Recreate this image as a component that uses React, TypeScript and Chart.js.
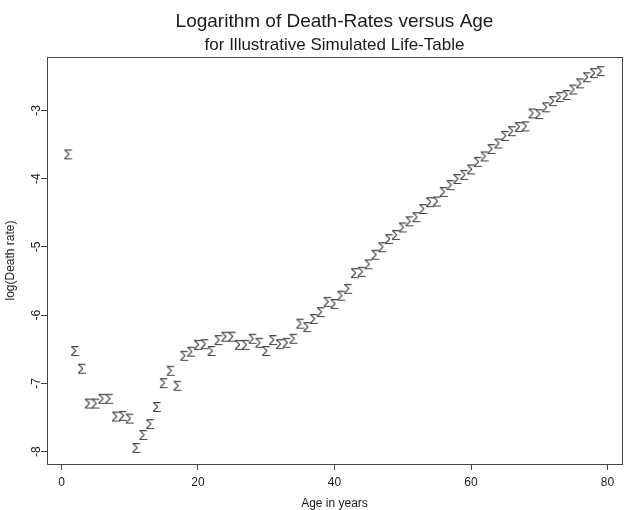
import React, { useEffect, useRef } from "react";
import { Chart, registerables } from "chart.js";

Chart.register(...registerables);

// Age (years) for each row of the simulated life table
const ages = [
  1, 2, 3, 4, 5, 6, 7, 8, 9, 10, 11, 12, 13, 14, 15, 16, 17, 18, 19, 20,
  21, 22, 23, 24, 25, 26, 27, 28, 29, 30, 31, 32, 33, 34, 35, 36, 37, 38, 39, 40,
  41, 42, 43, 44, 45, 46, 47, 48, 49, 50, 51, 52, 53, 54, 55, 56, 57, 58, 59, 60,
  61, 62, 63, 64, 65, 66, 67, 68, 69, 70, 71, 72, 73, 74, 75, 76, 77, 78, 79,
];

// log(death rate) at each age
const logDeathRates = [
  -3.66, -6.54, -6.8, -7.31, -7.31, -7.24, -7.24, -7.5, -7.49, -7.53,
  -7.96, -7.77, -7.61, -7.36, -7.01, -6.83, -7.05, -6.61, -6.55, -6.45,
  -6.44, -6.54, -6.38, -6.33, -6.33, -6.45, -6.45, -6.36, -6.42, -6.54,
  -6.38, -6.44, -6.42, -6.36, -6.14, -6.19, -6.07, -5.97, -5.82, -5.85,
  -5.73, -5.63, -5.4, -5.38, -5.27, -5.13, -5.02, -4.9, -4.84, -4.73,
  -4.64, -4.58, -4.46, -4.36, -4.35, -4.21, -4.11, -4.02, -3.96, -3.88,
  -3.77, -3.69, -3.58, -3.5, -3.39, -3.32, -3.26, -3.25, -3.06, -3.07,
  -2.97, -2.88, -2.82, -2.79, -2.71, -2.62, -2.53, -2.47, -2.44,
];

const xTickValues = [0, 20, 40, 60, 80];
const yTickValues = [-8, -7, -6, -5, -4, -3];

const titleText = "Logarithm of Death-Rates versus Age";
const subtitleText = "for Illustrative Simulated Life-Table";
const xAxisTitle = "Age in years";
const yAxisTitle = "log(Death rate)";
const markerChar = "Σ";

const FONT = '"Liberation Sans", Arial, Helvetica, sans-serif';
const INK = "#1a1a1a";
const FRAME = "#444";

// Axis limits padded by 4% of the data range on each side
function paddedRange(values: number[]): [number, number] {
  const lo = Math.min(...values);
  const hi = Math.max(...values);
  const pad = (hi - lo) * 0.04;
  return [lo - pad, hi + pad];
}

// Plotting symbol: a sigma glyph rendered once and reused for every point
function makeMarker(): HTMLCanvasElement {
  const c = document.createElement("canvas");
  c.width = 16;
  c.height = 18;
  const ctx = c.getContext("2d")!;
  ctx.font = `15px ${FONT}`;
  ctx.fillStyle = "#454545";
  ctx.textAlign = "center";
  ctx.textBaseline = "middle";
  ctx.fillText(markerChar, 8, 9);
  return c;
}

// Full rectangle around the plotting region
const frameBox = {
  id: "frameBox",
  afterDraw(chart: any) {
    const { ctx, chartArea } = chart;
    ctx.save();
    ctx.strokeStyle = FRAME;
    ctx.lineWidth = 1;
    ctx.strokeRect(
      Math.round(chartArea.left) + 0.5,
      Math.round(chartArea.top) + 0.5,
      Math.round(chartArea.right - chartArea.left),
      Math.round(chartArea.bottom - chartArea.top)
    );
    ctx.restore();
  },
};

export default function App() {
  const canvasRef = useRef<HTMLCanvasElement | null>(null);

  useEffect(() => {
    document.body.style.margin = "0";
    const canvas = canvasRef.current;
    if (!canvas) return;

    const [xMin, xMax] = paddedRange(ages);
    const [yMin, yMax] = paddedRange(logDeathRates);
    const marker = makeMarker();

    const chart = new Chart(canvas, {
      type: "scatter",
      data: {
        datasets: [
          {
            data: ages.map((a, i) => ({ x: a, y: logDeathRates[i] })),
            pointStyle: marker as any,
            pointRadius: 5,
            pointHoverRadius: 5,
          },
        ],
      },
      options: {
        animation: false,
        responsive: false,
        devicePixelRatio: 1,
        events: [],
        layout: { padding: { left: 0, right: 6, top: 0, bottom: 0 } },
        plugins: {
          legend: { display: false },
          tooltip: { enabled: false },
          title: {
            display: true,
            text: titleText,
            fullSize: false,
            color: INK,
            font: { family: FONT, size: 19, weight: "normal" },
            padding: { top: 10.6, bottom: 0.4 },
          },
          subtitle: {
            display: true,
            text: subtitleText,
            fullSize: false,
            color: INK,
            font: { family: FONT, size: 17, weight: "normal" },
            padding: { top: 1, bottom: 1.8 },
          },
        },
        scales: {
          x: {
            type: "linear",
            min: xMin,
            max: xMax,
            afterBuildTicks: (scale: any) => {
              scale.ticks = xTickValues.map((v) => ({ value: v }));
            },
            afterFit: (scale: any) => {
              scale.height = 46;
            },
            grid: {
              display: true,
              drawOnChartArea: false,
              drawTicks: true,
              tickLength: 6,
              tickColor: FRAME,
            },
            border: { display: false },
            ticks: {
              color: INK,
              font: { family: FONT, size: 12 },
              padding: 5,
              maxRotation: 0,
              minRotation: 0,
            },
            title: {
              display: true,
              text: xAxisTitle,
              color: INK,
              font: { family: FONT, size: 12, lineHeight: 1 },
              padding: { top: 0, bottom: 0 },
            },
          },
          y: {
            type: "linear",
            min: yMin,
            max: yMax,
            afterBuildTicks: (scale: any) => {
              scale.ticks = yTickValues.map((v) => ({ value: v }));
            },
            afterFit: (scale: any) => {
              scale.width = 47;
            },
            grid: {
              display: true,
              drawOnChartArea: false,
              drawTicks: true,
              tickLength: 6,
              tickColor: FRAME,
            },
            border: { display: false },
            ticks: {
              color: INK,
              font: { family: FONT, size: 12 },
              padding: -1,
              minRotation: 90,
              maxRotation: 90,
              crossAlign: "center",
            },
            title: {
              display: true,
              text: yAxisTitle,
              color: INK,
              font: { family: FONT, size: 12 },
              padding: { top: 3, bottom: 0 },
            },
          },
        },
      },
      plugins: [frameBox],
    });

    return () => chart.destroy();
  }, []);

  return (
    <div style={{ width: 628, height: 510, background: "#fff" }}>
      <canvas ref={canvasRef} width={628} height={510} style={{ display: "block" }} />
    </div>
  );
}
